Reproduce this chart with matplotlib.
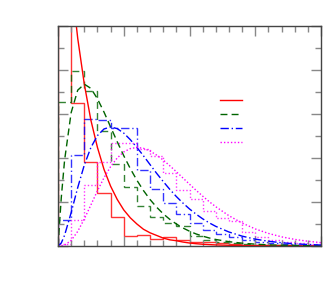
import numpy as np
import matplotlib
matplotlib.use("Agg")
import matplotlib.pyplot as plt
from matplotlib.lines import Line2D
from matplotlib.ticker import MultipleLocator, NullFormatter

# bin edges of the histograms (unit width)
edges = np.arange(0, 21)

# histogram heights, one value per bin
hist_k1 = [0.30, 0.163, 0.096, 0.060, 0.033, 0.011, 0.013, 0.008, 0.010, 0.007,
           0.005, 0.004, 0.003, 0.002, 0.0015, 0.001, 0.0008, 0.0006, 0.0004, 0.0003]
hist_k2 = [0.164, 0.199, 0.176, 0.131, 0.093, 0.067, 0.045, 0.033, 0.026, 0.023,
           0.011, 0.007, 0.005, 0.003, 0.002, 0.0015, 0.001, 0.0008, 0.0005, 0.0003]
hist_k3 = [0.030, 0.103, 0.144, 0.143, 0.134, 0.134, 0.086, 0.065, 0.0485, 0.036,
           0.026, 0.018, 0.014, 0.0106, 0.007, 0.005, 0.003, 0.002, 0.0015, 0.001]
hist_k4 = [0.002, 0.030, 0.069, 0.095, 0.117, 0.117, 0.110, 0.102, 0.083, 0.0636,
           0.053, 0.040, 0.0315, 0.0288, 0.0163, 0.0106, 0.0068, 0.005, 0.003, 0.002]

# density curves, read at these x positions
cx = [0, 0.25, 0.5, 1, 1.5, 2, 2.5, 3, 3.5, 4, 4.5, 5, 5.5, 6, 6.5, 7, 7.5, 8,
      8.5, 9, 9.5, 10, 10.5, 11, 11.5, 12, 13, 14, 15, 16, 17, 18, 19, 20]
curve_k1 = [0.5, 0.441, 0.389, 0.303, 0.236, 0.184, 0.143, 0.112, 0.087, 0.068,
            0.053, 0.041, 0.032, 0.025, 0.019, 0.015, 0.012, 0.009, 0.007, 0.006,
            0.0045, 0.0034, 0.0026, 0.002, 0.0016, 0.0012, 0.0008, 0.0005, 0.0003,
            0.0002, 0.0001, 0.0001, 0.0, 0.0]
curve_k2 = [0.0, 0.055, 0.0974, 0.1516, 0.1771, 0.1839, 0.1791, 0.1673, 0.1521,
            0.1353, 0.1186, 0.1026, 0.0879, 0.0747, 0.0630, 0.0528, 0.0441, 0.0366,
            0.0303, 0.0250, 0.0205, 0.0168, 0.0137, 0.0112, 0.0091, 0.0074, 0.0049,
            0.0032, 0.0021, 0.0013, 0.0009, 0.0006, 0.0004, 0.0002]
curve_k3 = [0.0, 0.0034, 0.0122, 0.0379, 0.0664, 0.0920, 0.1119, 0.1255, 0.1330,
            0.1353, 0.1334, 0.1283, 0.1208, 0.1120, 0.1025, 0.0925, 0.0826, 0.0733,
            0.0644, 0.0562, 0.0488, 0.0421, 0.0362, 0.0309, 0.0263, 0.0223, 0.0159,
            0.0112, 0.0078, 0.0054, 0.0037, 0.0025, 0.0017, 0.0011]
curve_k4 = [0.0, 0.0001, 0.0010, 0.0063, 0.0166, 0.0307, 0.0466, 0.0628, 0.0776,
            0.0902, 0.1000, 0.1069, 0.1107, 0.1120, 0.1110, 0.1079, 0.1033, 0.0977,
            0.0912, 0.0844, 0.0773, 0.0702, 0.0633, 0.0567, 0.0504, 0.0446, 0.0344,
            0.0261, 0.0194, 0.0143, 0.0104, 0.0075, 0.0054, 0.0038]

colores = ["#ff0000", "#006400", "#0000ff", "#ff00ff"]
estilos = ["-", (0, (5, 3)), (0, (6, 2, 1, 2)), (0, (1, 1.5))]

fig = plt.figure(figsize=(3.29, 2.89), dpi=100)
ax = fig.add_axes([58 / 329, 1 - 246 / 289, 263 / 329, 220 / 289])

hists = [hist_k1, hist_k2, hist_k3, hist_k4]
curves = [curve_k1, curve_k2, curve_k3, curve_k4]
for h, c, col, ls in zip(hists, curves, colores, estilos):
    ax.stairs(h, edges, color=col, linestyle=ls, linewidth=1.0, alpha=0.8)
    ax.plot(cx, c, color=col, linestyle=ls, linewidth=1.0)

ax.set_xlim(0, 20)
ax.set_ylim(0, 0.25)
ax.xaxis.set_major_locator(MultipleLocator(5))
ax.xaxis.set_minor_locator(MultipleLocator(1))
ax.yaxis.set_major_locator(MultipleLocator(0.05))
ax.yaxis.set_minor_locator(MultipleLocator(0.025))
ax.xaxis.set_major_formatter(NullFormatter())
ax.yaxis.set_major_formatter(NullFormatter())
ax.tick_params(which="both", direction="in", top=True, right=True, colors="#888888")
ax.tick_params(which="major", length=7, width=1)
ax.tick_params(which="minor", length=4, width=1)
for s in ax.spines.values():
    s.set_color("#444444")
    s.set_linewidth(1)

# legend without text, just the line samples
handles = [Line2D([], [], color=col, linestyle=ls, linewidth=1.0)
           for col, ls in zip(colores, estilos)]
ax.legend(handles, [" "] * 4, loc="upper left", bbox_to_anchor=(0.616, 0.686),
          frameon=False, fontsize=7, handlelength=2.3, labelspacing=0.42,
          handletextpad=0.2, borderpad=0.0, borderaxespad=0.0)

fig.savefig("out.png", dpi=100)
